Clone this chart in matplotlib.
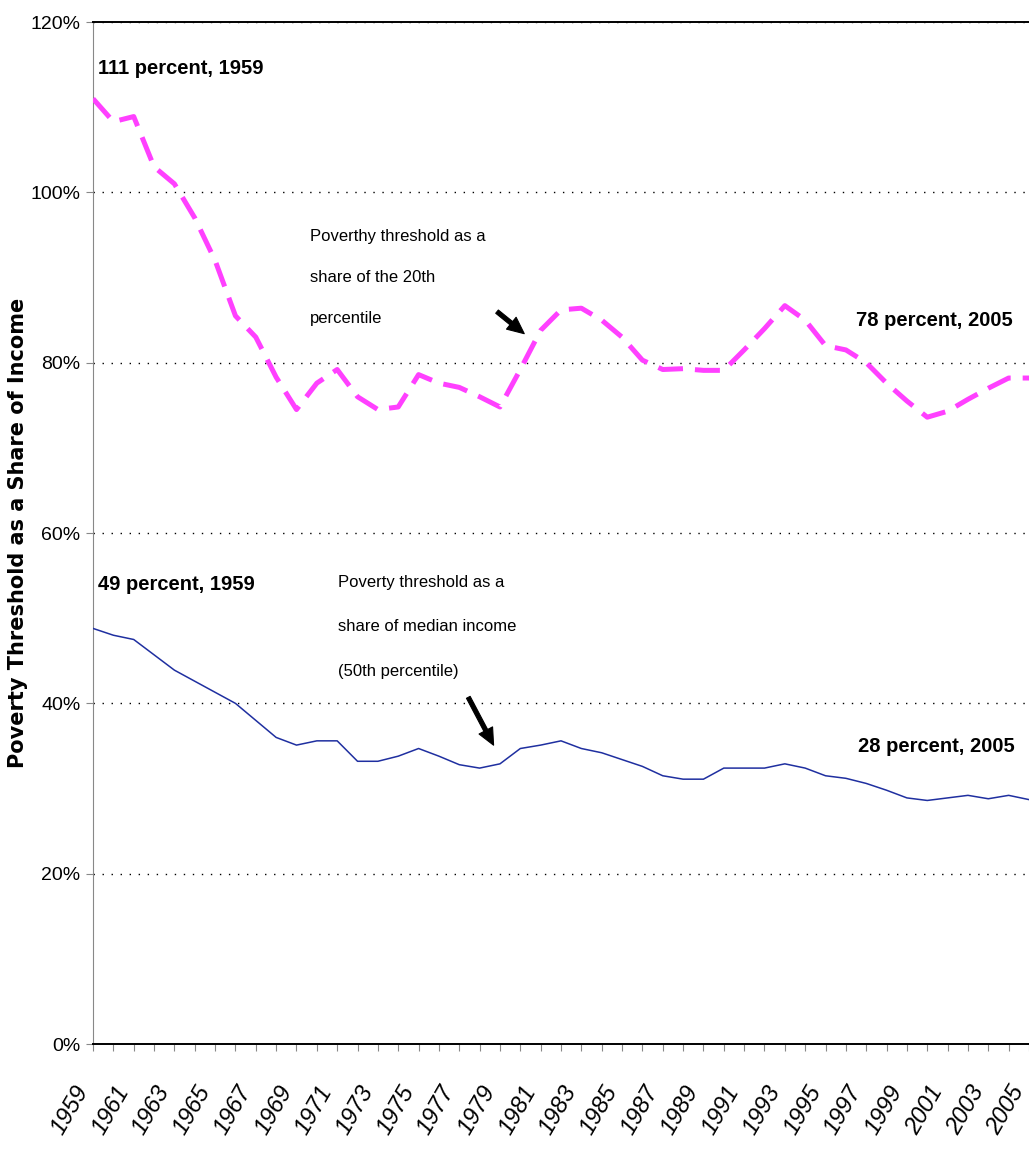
import matplotlib.pyplot as plt
from matplotlib.ticker import FuncFormatter

years = list(range(1959, 2006))

# poverty threshold as a share of the 20th percentile (%)
share_p20 = [111.0, 108.3, 108.9, 103.0, 101.0, 97.0, 92.0, 85.5, 83.0, 78.3,
             74.5, 77.6, 79.2, 76.0, 74.5, 74.8, 78.6, 77.6, 77.1, 76.0,
             74.8, 79.2, 83.8, 86.2, 86.4, 85.0, 83.0, 80.3, 79.2, 79.3,
             79.1, 79.1, 81.5, 84.0, 86.7, 85.0, 82.0, 81.5, 80.0, 77.6,
             75.5, 73.6, 74.3, 75.7, 77.0, 78.2, 78.2]

# poverty threshold as a share of median income (%)
share_median = [48.8, 48.0, 47.5, 45.7, 43.9, 42.6, 41.3, 40.0, 38.0, 36.0,
                35.1, 35.6, 35.6, 33.2, 33.2, 33.8, 34.7, 33.8, 32.8, 32.4,
                32.9, 34.7, 35.1, 35.6, 34.7, 34.2, 33.4, 32.6, 31.5, 31.1,
                31.1, 32.4, 32.4, 32.4, 32.9, 32.4, 31.5, 31.2, 30.6, 29.8,
                28.9, 28.6, 28.9, 29.2, 28.8, 29.2, 28.7]

y_ticks = [0, 20, 40, 60, 80, 100, 120]
label_years = list(range(1959, 2006, 2))

plt.rcParams['font.family'] = ['Liberation Sans', 'DejaVu Sans']

fig = plt.figure(figsize=(10.29, 11.53), dpi=100)
ax = fig.add_axes([0.0904, 0.0945, 0.9096, 0.8864])

for y in y_ticks[1:]:
    ax.axhline(y, color='black', lw=1, dashes=(1, 5.5), zorder=1)

ax.plot(years, share_median, color='#1f2fa0', lw=1.1, zorder=3)
ax.plot(years, share_p20, color='#ff40ff', lw=3.6, dashes=(5, 2.4), zorder=3)

ax.set_xlim(1959, 2005)
ax.set_ylim(0, 120)
ax.set_yticks(y_ticks)
ax.yaxis.set_major_formatter(FuncFormatter(lambda v, p: '%d%%' % v))
ax.set_xticks(years)
ax.set_xticklabels([str(y) if y in label_years else '' for y in years])

for lab in ax.get_yticklabels():
    lab.set_fontsize(14)
for lab in ax.get_xticklabels():
    lab.set_fontsize(17)
    lab.set_style('italic')
    lab.set_rotation(60)
    lab.set_ha('right')
    lab.set_va('top')

ax.tick_params(axis='x', length=5, color='#888888', pad=22)
ax.tick_params(axis='y', length=5, color='#888888', pad=4)
ax.spines['right'].set_visible(False)
ax.spines['left'].set_color('#888888')
ax.spines['bottom'].set_linewidth(1.4)
ax.spines['top'].set_linewidth(1.4)

bold = dict(fontweight='bold', fontsize=14.5)
ax.text(1959.25, 114.6, '111 percent, 1959', ha='left', va='center', **bold)
ax.text(2004.2, 85.0, '78 percent, 2005', ha='right', va='center', **bold)
ax.text(1959.25, 53.9, '49 percent, 1959', ha='left', va='center', **bold)
ax.text(2004.3, 34.9, '28 percent, 2005', ha='right', va='center', **bold)

note = dict(fontsize=12, va='center', ha='left', multialignment='left')
ax.text(1969.66, 90.0, 'Poverthy threshold as a\nshare of the 20th\npercentile',
        linespacing=3.2, **note)
ax.text(1971.04, 49.0, 'Poverty threshold as a\nshare of median income\n(50th percentile)',
        linespacing=3.45, **note)

arrow = dict(arrowstyle='simple,head_length=1.2,head_width=1.1,tail_width=0.3',
             facecolor='black', edgecolor='black', lw=0.8)
ax.annotate('', xy=(1980.3, 83.2), xytext=(1978.75, 86.2), arrowprops=arrow)
ax.annotate('', xy=(1978.75, 34.8), xytext=(1977.38, 41.0), arrowprops=arrow)

fig.text(0.0175, 1 - 533 / 1153, 'Poverty Threshold as a Share of Income',
         rotation=90, ha='center', va='center', fontsize=15, fontweight='bold',
         family='DejaVu Sans')

plt.savefig('out.png', dpi=100)
